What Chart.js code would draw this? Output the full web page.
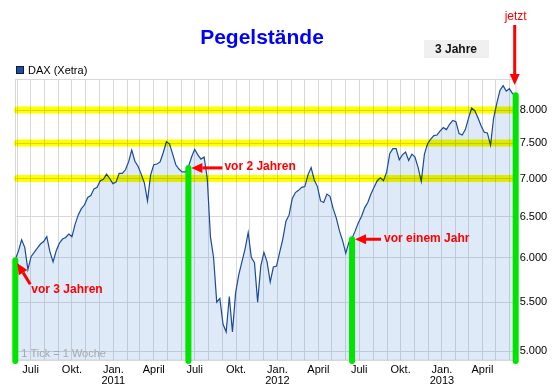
<!DOCTYPE html>
<html>
<head>
<meta charset="utf-8">
<script src="https://cdn.jsdelivr.net/npm/chart.js@4"></script>
<style>
  html, body { margin: 0; padding: 0; background: #fff; }
  #wrap { width: 558px; height: 390px; position: relative; }
</style>
</head>
<body>
<div id="wrap"><canvas id="pegel" width="558" height="390"></canvas></div>
<script>
// DAX (Xetra), weekly closes, first week ends 28.05.2010
const startDate = '2010-05-28';
const dax = [
  5980, 6075, 6210, 6120, 5860, 6010, 6060, 6110, 6160, 6190,
  6250, 6070, 5950, 6080, 6170, 6220, 6240, 6280, 6250, 6400,
  6520, 6600, 6650, 6745, 6770, 6860, 6880, 6970, 6990, 7060,
  7000, 6930, 6950, 7070, 7070, 7120, 7230, 7400, 7240, 7170,
  7060, 6940, 6700, 7050, 7190, 7200, 7230, 7360, 7520, 7490,
  7340, 7190, 7130, 7090, 7090, 7160, 7300, 7410, 7330, 7270,
  7300, 7000, 6250, 6000, 5500, 5540, 5270, 5190, 5560, 5190,
  5600, 5800, 5950, 6100, 6300, 6000, 5940, 5500, 5900, 6060,
  5950, 5720, 5890, 5900, 6060, 6220, 6440, 6520, 6730, 6810,
  6840, 6880, 6890, 7050, 7150, 6980, 6890, 6700, 6680, 6790,
  6760, 6600, 6480, 6320, 6200, 6050, 6180, 6230, 6320, 6420,
  6500, 6610, 6680, 6790, 6880, 6970, 7010, 6970, 7090, 7350,
  7420, 7420, 7260, 7330, 7370, 7250, 7340, 7300, 7150, 6960,
  7340, 7490, 7560, 7610, 7620, 7680, 7730, 7700, 7780, 7840,
  7820, 7640, 7620, 7700, 7870, 8030, 7990, 7880, 7760, 7660,
  7650, 7470, 7880, 8110, 8310, 8390, 8300, 8340, 8260, 8250
];
const yTicks = [5000, 5500, 6000, 6500, 7000, 7500, 8000];
const levels = [7000, 7500, 8000];           // Pegel
const quarterLabels = ['Jan.', 'April', 'Juli', 'Okt.'];
const yearsBack = [3, 2, 1, 0];

const WEEK = 7 * 86400000;
const start = new Date(startDate + 'T00:00:00Z').getTime();
const last = dax.length - 1;

// one grid line per month, label every quarter
let monthTicks = [];
for (let y = 2010; y <= 2013; y++) {
  for (let m = 0; m < 12; m++) {
    let w = (Date.UTC(y, m, 1) - start) / WEEK;
    if (w <= 0 || w >= last) continue;
    let label = '';
    if (m % 3 == 0) label = m == 0 ? [quarterLabels[0], String(y)] : quarterLabels[m / 3];
    monthTicks.push({value: w, label: label});
  }
}

function fmt(v) {
  return String(v).replace(/\B(?=(\d{3})+(?!\d))/g, '.');
}

function arrow(ctx, x1, y1, x2, y2) {
  let ang = Math.atan2(y2 - y1, x2 - x1);
  let head = 11, half = 5;
  let bx = x2 - head * Math.cos(ang), by = y2 - head * Math.sin(ang);
  ctx.beginPath();
  ctx.moveTo(x1, y1);
  ctx.lineTo(bx, by);
  ctx.lineWidth = 3;
  ctx.stroke();
  ctx.beginPath();
  ctx.moveTo(x2, y2);
  ctx.lineTo(bx - half * Math.sin(ang), by + half * Math.cos(ang));
  ctx.lineTo(bx + half * Math.sin(ang), by - half * Math.cos(ang));
  ctx.closePath();
  ctx.fill();
}

const extras = {
  id: 'extras',
  beforeDatasetsDraw(chart) {
    const {ctx, chartArea: a} = chart;
    ctx.save();
    ctx.strokeStyle = '#d8d8d8';
    ctx.lineWidth = 1;
    ctx.strokeRect(Math.round(a.left) + 0.5, Math.round(a.top) + 0.5, a.right - a.left, a.bottom - a.top);
    ctx.restore();
  },
  afterDatasetsDraw(chart) {
    const {ctx, chartArea: a} = chart;
    const xs = chart.scales.x, ys = chart.scales.y;
    ctx.save();
    // yellow levels
    ctx.globalCompositeOperation = 'multiply';
    ctx.strokeStyle = '#ffff00';
    ctx.lineWidth = 7;
    ctx.lineCap = 'round';
    levels.forEach(function(v) {
      let y = ys.getPixelForValue(v);
      ctx.beginPath();
      ctx.moveTo(a.left + 2, y);
      ctx.lineTo(a.right - 2, y);
      ctx.stroke();
    });
    ctx.globalCompositeOperation = 'source-over';
    // green markers
    ctx.strokeStyle = '#00e400';
    ctx.lineWidth = 6;
    let pts = yearsBack.map(function(n) {
      let i = n == 3 ? 0 : last - n * 52;
      return {x: xs.getPixelForValue(i), y: ys.getPixelForValue(dax[i])};
    });
    pts.forEach(function(p) {
      ctx.beginPath();
      ctx.moveTo(p.x, p.y + 1);
      ctx.lineTo(p.x, a.bottom + 1);
      ctx.stroke();
    });
    // arrows + notes
    ctx.strokeStyle = '#ff0000';
    ctx.fillStyle = '#ff0000';
    ctx.lineCap = 'butt';
    arrow(ctx, pts[0].x + 15, pts[0].y + 25, pts[0].x + 2, pts[0].y + 4);
    arrow(ctx, pts[1].x + 34, pts[1].y + 1, pts[1].x + 3, pts[1].y + 1);
    arrow(ctx, pts[2].x + 29, pts[2].y + 1, pts[2].x + 3, pts[2].y + 1);
    arrow(ctx, pts[3].x - 1, 25, pts[3].x - 1, 85);
    ctx.font = 'bold 12px "Liberation Sans", Arial, sans-serif';
    ctx.textBaseline = 'middle';
    ctx.textAlign = 'left';
    ctx.fillText('vor 3 Jahren', pts[0].x + 16, pts[0].y + 30);
    ctx.fillText('vor 2 Jahren', pts[1].x + 36, pts[1].y);
    ctx.fillText('vor einem Jahr', pts[2].x + 32, pts[2].y);
    ctx.font = '12px "Liberation Sans", Arial, sans-serif';
    ctx.textAlign = 'center';
    ctx.fillText('jetzt', pts[3].x, 16.5);
    ctx.restore();
  },
  afterDraw(chart) {
    const {ctx, chartArea: a} = chart;
    ctx.save();
    ctx.textBaseline = 'middle';
    // title
    ctx.fillStyle = '#0000ff';
    ctx.textAlign = 'center';
    ctx.font = 'bold 21px "Liberation Sans", Arial, sans-serif';
    ctx.fillText('Pegelstände', 262, 38);
    // period box
    ctx.fillStyle = '#f0f0f0';
    ctx.fillRect(424, 40, 65, 18);
    ctx.fillStyle = '#111';
    ctx.font = 'bold 12px "Liberation Sans", Arial, sans-serif';
    ctx.fillText('3 Jahre', 456, 49.5);
    // legend
    ctx.fillStyle = '#1f4e9c';
    ctx.fillRect(16.5, 66.5, 7, 7);
    ctx.strokeStyle = '#0a1a40';
    ctx.lineWidth = 1;
    ctx.strokeRect(16.5, 66.5, 7, 7);
    ctx.fillStyle = '#000';
    ctx.textAlign = 'left';
    ctx.font = '11px "Liberation Sans", Arial, sans-serif';
    ctx.fillText('DAX (Xetra)', 28, 71);
    // tick note
    ctx.fillStyle = '#a8a8a8';
    ctx.fillText('1 Tick = 1 Woche', a.left + 6, 354);
    ctx.restore();
  }
};

Chart.defaults.font.family = '"Liberation Sans", Arial, sans-serif';

new Chart(document.getElementById('pegel').getContext('2d'), {
  type: 'line',
  data: {
    datasets: [{
      label: 'DAX (Xetra)',
      data: dax.map(function(v, i) { return {x: i, y: v}; }),
      borderColor: '#1a4a9a',
      borderWidth: 1.2,
      backgroundColor: 'rgba(80, 140, 220, 0.18)',
      fill: 'start',
      pointRadius: 0,
      tension: 0
    }]
  },
  options: {
    responsive: false,
    animation: false,
    devicePixelRatio: 1,
    layout: { padding: { left: 15.3, top: 79.3, right: 0, bottom: 0 } },
    plugins: {
      legend: { display: false },
      title: { display: false },
      tooltip: { enabled: false }
    },
    scales: {
      x: {
        type: 'linear',
        min: 0,
        max: last,
        afterBuildTicks: function(s) { s.ticks = monthTicks.map(function(t) { return {value: t.value}; }); },
        afterFit: function(s) { s.height = 30; },
        grid: { color: '#d8d8d8', drawTicks: false },
        border: { color: '#d8d8d8' },
        ticks: {
          autoSkip: false,
          maxRotation: 0,
          padding: 4,
          color: '#000',
          font: { size: 11, lineHeight: 1.05 },
          callback: function(v, i) { return monthTicks[i] ? monthTicks[i].label : ''; }
        }
      },
      y: {
        type: 'logarithmic',
        position: 'right',
        min: 4913,
        max: 8494,
        afterBuildTicks: function(s) { s.ticks = yTicks.map(function(v) { return {value: v}; }); },
        afterFit: function(s) { s.width = 42.3; },
        grid: { color: '#d8d8d8', drawTicks: false },
        border: { display: false },
        ticks: {
          padding: 4,
          color: '#000',
          font: { size: 11 },
          callback: function(v) { return fmt(v); }
        }
      }
    }
  },
  plugins: [extras]
});
</script>
</body>
</html>
